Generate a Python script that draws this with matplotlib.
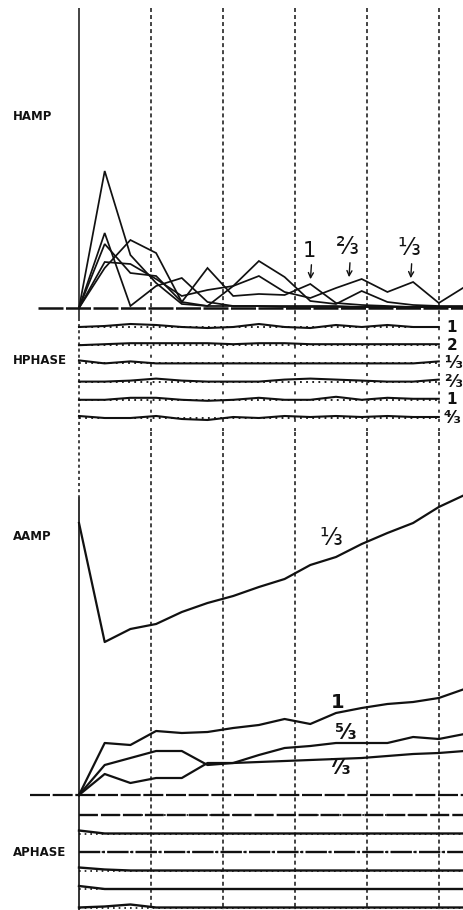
import numpy as np
import matplotlib
matplotlib.use("Agg")
import matplotlib.pyplot as plt

W, H, DPI = 463, 910, 100

# ---- data -------------------------------------------------------------
t = np.arange(16)            # sample index along the time axis
t_ph = np.arange(15)         # phase traces stop one sample earlier
grid_t = [2.8, 5.6, 8.4, 11.2, 14.0]

# horizontal amplitude traces (HAMP)
hamp_1 = [0, 137, 53, 25, 4, 2, 2, 2, 1, 1, 1, 1, 1, 1, 1, 1]
hamp_2 = [0, 75, 2, 22, 30, 6, 2, 2, 2, 2, 2, 1, 1, 1, 1, 1]
hamp_3 = [0, 64, 35, 32, 6, 40, 12, 14, 13, 24, 5, 3, 2, 1, 1, 1]
hamp_4 = [0, 46, 44, 29, 12, 18, 22, 32, 16, 10, 20, 29, 16, 26, 5, 21]
hamp_5 = [0, 40, 68, 55, 6, 2, 22, 47, 31, 7, 4, 17, 6, 3, 2, 2]
hamp_tags = ["1", "\u2154", "\u2153"]
hamp_tag_t = [9.0, 10.5, 12.9]
hamp_tag_h = [25, 27, 26]

# horizontal phase traces (HPHASE), deviation from each reference line
hph_1 = [0, 1, 3, 2, 0, -1, 0, 3, 0, -1, 2, 0, 2, 0, 0]
hph_2 = [0, 1, 2, 2, 2, 2, 1, 2, 2, 1, 1, 1, 1, 1, 1]
hph_3 = [3, 0, 2, 0, 0, 0, 0, 0, 0, 0, 0, 0, 0, 0, 2]
hph_4 = [0, 0, 1, 3, 1, 0, 0, 0, 2, 3, 2, 1, 0, 0, 2]
hph_5 = [0, 0, 2, 2, 0, -1, 0, 2, 0, 0, 3, 0, 2, 1, 1]
hph_6 = [2, 0, 0, 2, -1, -2, 1, 0, 2, 1, 2, 1, 2, 1, 1]
hph_tags = ["1", "2", "\u2153", "\u2154", "1", "\u2074\u2044\u2083"]

# axial amplitude traces (AAMP)
aamp_third = [272, 153, 166, 171, 183, 192, 199, 208, 216, 230, 238, 251, 262, 272, 288, 300]
aamp_one = [0, 52, 50, 64, 62, 63, 67, 70, 76, 71, 82, 87, 91, 93, 97, 106]
aamp_five3 = [0, 30, 37, 44, 44, 30, 32, 40, 47, 49, 52, 52, 52, 58, 56, 61]
aamp_seven3 = [0, 21, 12, 17, 17, 32, 32, 33, 34, 35, 36, 37, 39, 41, 42, 44]
aamp_tags = ["\u2153", "1", "\u2075\u2044\u2083", "\u2077\u2044\u2083"]

# axial phase traces (APHASE)
aph_1 = [0] * 16
aph_2 = [3, 0, 0, 0, 0, 0, 0, 0, 0, 0, 0, 0, 0, 0, 0, 0]
aph_3 = [0] * 16
aph_4 = [3, 1, 0, 0, 0, 0, 0, 0, 0, 0, 0, 0, 0, 0, 0, 0]
aph_5 = [3, 0, 0, 0, 0, 0, 0, 0, 0, 0, 0, 0, 0, 0, 0, 0]
aph_6 = [0, 1, 3, 0, 0, 0, 0, 0, 0, 0, 0, 0, 0, 0, 0, 0]

panel_names = ["HAMP", "HPHASE", "AAMP", "APHASE"]

# ---- layout -----------------------------------------------------------
STEP = 25.7          # pixels per sample
LEFT = 79            # pixel column of the time origin
X0, X1 = -LEFT / STEP, (W - LEFT) / STEP

fig = plt.figure(figsize=(W / DPI, H / DPI), dpi=DPI)
fig.patch.set_facecolor("white")
plt.rcParams["font.family"] = ["DejaVu Sans"]

INK = "#111111"


def panel(top, bottom, base):
    """Axes across the full width; one y unit = one pixel, zero at `base`."""
    ax = fig.add_axes([0, 1 - bottom / H, 1, (bottom - top) / H])
    ax.set_xlim(X0, X1)
    ax.set_ylim(-(bottom - base), base - top)
    ax.axis("off")
    ax.patch.set_alpha(0)
    return ax


# frame: time origin and dashed time markers
frame = fig.add_axes([0, 0, 1, 1])
frame.set_xlim(X0, X1)
frame.set_ylim(H, 0)
frame.axis("off")
frame.patch.set_alpha(0)
for g in grid_t:
    frame.vlines(g, 8, 318, color=INK, lw=1.1, linestyles=(0, (2.6, 2.0)))
    frame.vlines(g, 318, 432, color=INK, lw=1.1, linestyles=(0, (2.0, 4.0)))
    frame.vlines(g, 432, H, color=INK, lw=1.1, linestyles=(0, (2.6, 2.0)))
frame.vlines(0, 8, 318, color=INK, lw=1.1)
frame.vlines(0, 318, 497, color=INK, lw=1.1, linestyles=(0, (2.0, 2.0)))
frame.vlines(0, 497, H, color=INK, lw=1.2)

# HAMP
ax = panel(0, 320, 308)
ax.hlines(0, -1.6, X1, color=INK, lw=1.8, linestyles=(0, (10, 1.0)))
for s in (hamp_1, hamp_2, hamp_3, hamp_4, hamp_5):
    ax.plot(t, s, color=INK, lw=1.25, solid_joinstyle="miter")
for lab, tt, hh in zip(hamp_tags, hamp_tag_t, hamp_tag_h):
    ax.annotate("", xy=(tt, hh + 1), xytext=(tt + 0.05, hh + 21),
                arrowprops=dict(arrowstyle="->", color=INK, lw=1.0,
                                mutation_scale=9))
    ax.text(tt - 0.05, hh + 22, lab, ha="center", va="bottom",
            fontsize=15 if lab == "1" else 17, color=INK)

# HPHASE
ax = panel(318, 432, 432)
levels = [105 - 18.2 * k for k in range(6)]
for lev, s, lab in zip(levels, (hph_1, hph_2, hph_3, hph_4, hph_5, hph_6), hph_tags):
    ax.plot([0, 14], [lev, lev], color=INK, lw=1.3, linestyle=(0, (1.0, 2.4)))
    ax.plot(t_ph, np.array(s) + lev, color=INK, lw=1.5)
    digit = len(lab) == 1 and lab.isdigit()
    ax.text(14.3 if digit else 14.2, lev, lab, ha="left", va="center",
            fontsize=11 if digit else 12.5, fontweight="bold", color=INK)

# AAMP
ax = panel(430, 800, 795)
ax.hlines(0, -1.9, X1, color=INK, lw=1.6, linestyles=(0, (9, 1.2)))
for s in (aamp_third, aamp_one, aamp_five3, aamp_seven3):
    ax.plot(t, s, color=INK, lw=1.6)
ax.text(9.8, 257, aamp_tags[0], ha="center", va="center", fontsize=17, color=INK)
ax.text(10.08, 93, aamp_tags[1], ha="center", va="center", fontsize=14,
        fontweight="bold", color=INK)
ax.text(10.4, 62, aamp_tags[2], ha="center", va="center", fontsize=15,
        fontweight="bold", color=INK)
ax.text(10.15, 27, aamp_tags[3], ha="center", va="center", fontsize=15,
        fontweight="bold", color=INK)

# APHASE
ax = panel(800, H, H)
alevels = [95 - 18.5 * k for k in range(6)]
styles = [(0, (8, 1.3)), "-", (0, (9, 1.0, 1.0, 1.0)), "-", "-", "-"]
for lev, s, ls in zip(alevels, (aph_1, aph_2, aph_3, aph_4, aph_5, aph_6), styles):
    ax.plot([0, X1], [lev, lev], color=INK, lw=1.2, linestyle=(0, (1.0, 2.4)))
    ax.plot(t, np.array(s) + lev, color=INK, lw=1.7, linestyle=ls)

# panel titles on the left
for name, ypx in zip(panel_names, (116, 361, 537, 853)):
    fig.text(13 / W, 1 - ypx / H, name, ha="left", va="center",
             fontsize=8.5, fontweight="bold", color=INK)

fig.savefig("out.png", dpi=DPI, facecolor="white")
